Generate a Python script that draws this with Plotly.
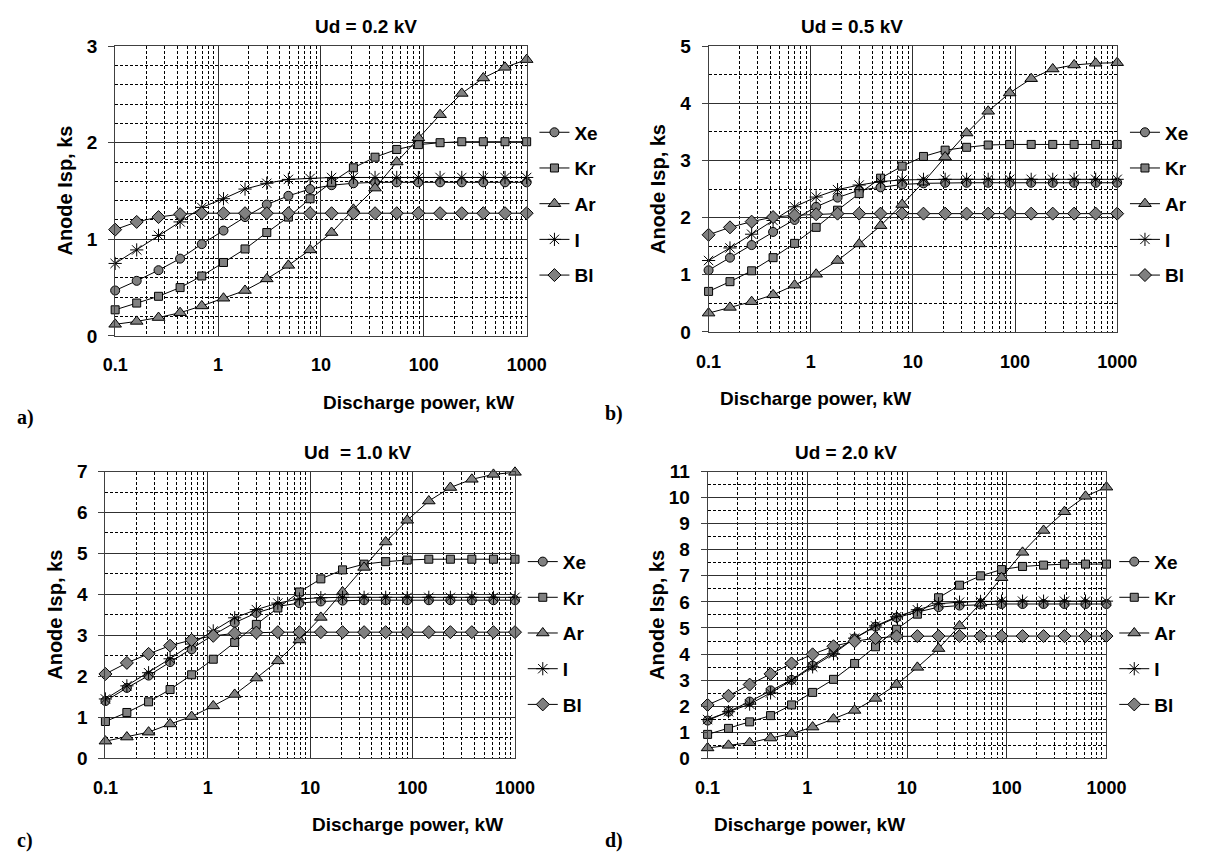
import plotly.graph_objects as go

W, H = 1215, 865

# Discharge power, kW (shared by every panel)
power_kw = [0.1, 0.162, 0.264, 0.428, 0.695, 1.13, 1.83, 2.98, 4.83, 7.85,
            12.7, 20.7, 33.6, 54.6, 88.6, 144, 234, 379, 616, 1000]

gases = ["Xe", "Kr", "Ar", "I", "Bl"]

# Anode Isp, ks -- Ud = 0.2 kV
isp_02_xe = [0.47, 0.57, 0.68, 0.80, 0.95, 1.09, 1.23, 1.36, 1.45, 1.52,
             1.56, 1.58, 1.59, 1.59, 1.59, 1.59, 1.59, 1.59, 1.59, 1.59]
isp_02_kr = [0.27, 0.34, 0.41, 0.50, 0.62, 0.76, 0.90, 1.07, 1.23, 1.42,
             1.59, 1.74, 1.85, 1.93, 1.98, 2.00, 2.01, 2.01, 2.01, 2.01]
isp_02_ar = [0.12, 0.15, 0.19, 0.24, 0.31, 0.39, 0.47, 0.59, 0.73, 0.89,
             1.07, 1.31, 1.53, 1.80, 2.05, 2.29, 2.51, 2.67, 2.78, 2.86]
isp_02_i = [0.75, 0.89, 1.04, 1.18, 1.33, 1.42, 1.52, 1.58, 1.62, 1.63,
            1.64, 1.64, 1.64, 1.64, 1.64, 1.64, 1.64, 1.64, 1.64, 1.64]
isp_02_bl = [1.10, 1.18, 1.23, 1.26, 1.27, 1.27, 1.27, 1.27, 1.27, 1.27,
             1.27, 1.27, 1.27, 1.27, 1.27, 1.27, 1.27, 1.27, 1.27, 1.27]

# Anode Isp, ks -- Ud = 0.5 kV
isp_05_xe = [1.08, 1.30, 1.52, 1.75, 1.96, 2.19, 2.35, 2.48, 2.53, 2.58,
             2.60, 2.61, 2.61, 2.61, 2.61, 2.61, 2.61, 2.61, 2.61, 2.61]
isp_05_kr = [0.71, 0.88, 1.07, 1.30, 1.55, 1.83, 2.13, 2.42, 2.69, 2.90,
             3.07, 3.18, 3.23, 3.27, 3.28, 3.28, 3.28, 3.28, 3.28, 3.28]
isp_05_ar = [0.33, 0.43, 0.53, 0.65, 0.82, 1.01, 1.25, 1.54, 1.86, 2.23,
             2.62, 3.06, 3.48, 3.86, 4.18, 4.43, 4.60, 4.67, 4.70, 4.71]
isp_05_i = [1.25, 1.47, 1.71, 1.95, 2.19, 2.36, 2.49, 2.57, 2.63, 2.66,
            2.67, 2.67, 2.67, 2.67, 2.67, 2.67, 2.67, 2.67, 2.67, 2.67]
isp_05_bl = [1.70, 1.83, 1.93, 2.01, 2.04, 2.06, 2.07, 2.07, 2.07, 2.07,
             2.07, 2.07, 2.07, 2.07, 2.07, 2.07, 2.07, 2.07, 2.07, 2.07]

# Anode Isp, ks -- Ud = 1.0 kV
isp_10_xe = [1.40, 1.72, 2.02, 2.35, 2.66, 3.01, 3.31, 3.55, 3.71, 3.79,
             3.83, 3.85, 3.86, 3.86, 3.86, 3.86, 3.86, 3.86, 3.86, 3.86]
isp_10_kr = [0.90, 1.12, 1.38, 1.68, 2.04, 2.42, 2.83, 3.27, 3.67, 4.06,
             4.38, 4.60, 4.74, 4.80, 4.84, 4.86, 4.86, 4.86, 4.86, 4.86]
isp_10_ar = [0.42, 0.52, 0.64, 0.84, 1.02, 1.28, 1.56, 1.96, 2.38, 2.89,
             3.44, 4.06, 4.66, 5.28, 5.81, 6.28, 6.61, 6.81, 6.93, 6.98]
isp_10_i = [1.45, 1.77, 2.09, 2.43, 2.79, 3.11, 3.43, 3.63, 3.79, 3.89,
            3.92, 3.93, 3.93, 3.93, 3.93, 3.93, 3.93, 3.93, 3.93, 3.93]
isp_10_bl = [2.06, 2.33, 2.55, 2.75, 2.89, 2.99, 3.05, 3.07, 3.08, 3.08,
             3.08, 3.08, 3.08, 3.08, 3.08, 3.08, 3.08, 3.08, 3.08, 3.08]

# Anode Isp, ks -- Ud = 2.0 kV
isp_20_xe = [1.45, 1.79, 2.18, 2.61, 3.01, 3.56, 4.08, 4.60, 5.05, 5.40,
             5.61, 5.80, 5.86, 5.90, 5.92, 5.92, 5.92, 5.92, 5.92, 5.92]
isp_20_kr = [0.92, 1.15, 1.40, 1.64, 2.05, 2.53, 3.03, 3.64, 4.28, 4.95,
             5.53, 6.16, 6.64, 7.00, 7.24, 7.36, 7.41, 7.45, 7.45, 7.45]
isp_20_ar = [0.40, 0.50, 0.60, 0.78, 0.95, 1.20, 1.51, 1.84, 2.30, 2.83,
             3.49, 4.21, 5.08, 5.95, 6.93, 7.90, 8.74, 9.46, 10.05, 10.40]
isp_20_i = [1.49, 1.79, 2.08, 2.51, 2.99, 3.51, 4.01, 4.61, 5.08, 5.43,
            5.70, 5.93, 5.99, 6.02, 6.03, 6.03, 6.03, 6.03, 6.03, 6.03]
isp_20_bl = [2.05, 2.40, 2.83, 3.24, 3.64, 3.99, 4.30, 4.49, 4.61, 4.68,
             4.69, 4.69, 4.69, 4.69, 4.69, 4.69, 4.69, 4.69, 4.69, 4.69]

x_tick_vals = [0.1, 1, 10, 100, 1000]
x_tick_text = ["0.1", "1", "10", "100", "1000"]
x_minor_vals = [m * d for d in (0.1, 1, 10, 100) for m in range(2, 10)]

FONT = "Liberation Sans, Arial, sans-serif"
SERIF = "Liberation Serif, Times New Roman, serif"

# marker symbol, size, fill colour
symbols = {"Xe": ("circle", 9, "#808080"), "Kr": ("square", 8, "#808080"),
           "Ar": ("triangle-up", 11, "#808080"), "I": ("asterisk-open", 11, "black"),
           "Bl": ("diamond", 10, "#808080")}

# panel definitions: pixel boxes (left, right, top, bottom) and legend top
panels = [
    dict(title="Ud = 0.2 kV", tag="a)", ymax=3, minor=0.2, box=(105, 528, 37, 334),
         legend_top=106, series=[isp_02_xe, isp_02_kr, isp_02_ar, isp_02_i, isp_02_bl]),
    dict(title="Ud = 0.5 kV", tag="b)", ymax=5, minor=0.5, box=(715, 1135, 37, 330),
         legend_top=106, series=[isp_05_xe, isp_05_kr, isp_05_ar, isp_05_i, isp_05_bl]),
    dict(title="Ud  = 1.0 kV", tag="c)", ymax=7, minor=0.5, box=(95, 516, 473, 767),
         legend_top=546, series=[isp_10_xe, isp_10_kr, isp_10_ar, isp_10_i, isp_10_bl]),
    dict(title="Ud = 2.0 kV", tag="d)", ymax=11, minor=0.5, box=(714, 1124, 473, 767),
         legend_top=546, series=[isp_20_xe, isp_20_kr, isp_20_ar, isp_20_i, isp_20_bl]),
]
tag_x = [2, 606, 2, 606]


def px(x):
    return x / W


def py(y):
    return 1 - y / H


fig = go.Figure()
layout = dict(width=W, height=H, margin=dict(l=0, r=0, t=0, b=0),
              paper_bgcolor="white", plot_bgcolor="white",
              font=dict(family=FONT, color="black"), annotations=[])

for k, p in enumerate(panels):
    n = "" if k == 0 else str(k + 1)
    xa, ya = "x" + n, "y" + n
    lg = "legend" + n
    left, right, top, bottom = p["box"]
    for gas, ys in zip(gases, p["series"]):
        sym, size, fill = symbols[gas]
        fig.add_trace(go.Scatter(
            x=power_kw, y=ys, name=gas, xaxis=xa, yaxis=ya, legend=lg,
            legendgroup=f"{gas}{k}", mode="lines+markers", cliponaxis=False,
            line=dict(color="black", width=1),
            marker=dict(symbol=sym, size=size, color=fill,
                        line=dict(color="black", width=1)),
        ))
    layout["xaxis" + n] = dict(
        type="log", range=[-1, 3], domain=[px(left), px(right)], anchor=ya,
        tickmode="array", tickvals=x_tick_vals, ticktext=x_tick_text,
        ticks="", showgrid=True, gridcolor="#303030", gridwidth=1,
        showline=True, linecolor="#404040", mirror=True, zeroline=False,
        ticklabelstandoff=13,
        tickfont=dict(family=FONT, size=18, weight="bold"),
        minor=dict(tickmode="array", tickvals=x_minor_vals, showgrid=True,
                   gridcolor="black", gridwidth=1, griddash="3px,2px", ticks=""),
    )
    layout["yaxis" + n] = dict(
        range=[0, p["ymax"]], dtick=1, domain=[py(bottom), py(top)], anchor=xa,
        ticks="outside", ticklen=6, tickcolor="#404040", ticklabelstandoff=7,
        showgrid=True, gridcolor="#303030", gridwidth=1,
        showline=True, linecolor="#404040", mirror=True, zeroline=False,
        tickfont=dict(family=FONT, size=19, weight="bold"),
        minor=dict(dtick=p["minor"], showgrid=True, gridcolor="black",
                   gridwidth=1, griddash="3px,2px", ticks=""),
    )
    layout[lg] = dict(
        x=px(right + 8), y=py(p["legend_top"]), xanchor="left", yanchor="top",
        bgcolor="rgba(0,0,0,0)", tracegroupgap=8, itemwidth=30,
        font=dict(family=FONT, size=19, weight="bold", color="black"),
    )
    cx = (left + right) / 2
    layout["annotations"] += [
        dict(text=p["title"], x=px(cx - 8), y=py(top - 20), xref="paper", yref="paper",
             yanchor="middle", showarrow=False,
             font=dict(family=FONT, size=19, weight="bold")),
        dict(text="Anode Isp, ks", x=px(left - 52), y=py((top + bottom) / 2),
             xref="paper", yref="paper", textangle=-90, showarrow=False,
             xanchor="center", yanchor="middle",
             font=dict(family=FONT, size=20, weight="bold")),
        dict(text="Discharge power, kW", x=px(cx), y=py(bottom + 68),
             xref="paper", yref="paper", yanchor="middle", showarrow=False,
             font=dict(family=FONT, size=19, weight="bold")),
        dict(text=p["tag"], x=px(tag_x[k]), y=py(bottom + 84),
             xref="paper", yref="paper", xanchor="left", yanchor="middle",
             showarrow=False, font=dict(family=SERIF, size=20, weight="bold")),
    ]

fig.update_layout(**layout)
fig.write_html("out.html")
